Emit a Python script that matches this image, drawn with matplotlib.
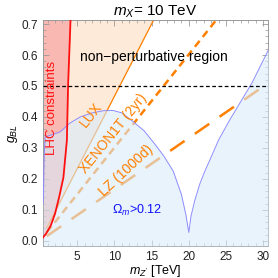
import numpy as np
import matplotlib
matplotlib.use("Agg")
import matplotlib.pyplot as plt
from matplotlib.ticker import MultipleLocator

plt.rcParams['font.family'] = ['Liberation Sans', 'DejaVu Sans']
plt.rcParams['mathtext.fontset'] = 'custom'
plt.rcParams['mathtext.rm'] = 'Liberation Sans'
plt.rcParams['mathtext.it'] = 'Liberation Sans:italic'

# Relic density boundary (Omega h^2 = 0.12)
omega_left_x = [0.40, 0.45, 0.50, 0.55, 0.60, 0.67, 1.5, 2.7, 4.0, 5.4, 7.0, 8.5, 9.8,
                11.0, 12.5, 14.0, 15.5, 16.6, 17.9, 19.0, 19.6, 20.0]
omega_left_y = [0.12, 0.15, 0.22, 0.27, 0.30, 0.335, 0.342, 0.352, 0.38, 0.40, 0.413,
                0.42, 0.421, 0.413, 0.385, 0.355, 0.31, 0.275, 0.225, 0.15, 0.085, 0.027]
omega_right_x = [20.0, 20.3, 20.8, 21.5, 22.2, 23.0, 24.0, 25.5, 27.0, 28.5, 30.7]
omega_right_y = [0.027, 0.08, 0.13, 0.185, 0.227, 0.27, 0.325, 0.39, 0.45, 0.51, 0.616]

# LHC constraint boundary
lhc_x = [0.40, 0.8, 1.43, 2.0, 2.55, 3.13, 3.6, 3.76, 4.1]
lhc_y = [0.011, 0.023, 0.049, 0.087, 0.14, 0.204, 0.324, 0.5, 0.72]

# Direct detection limits: g_BL / m_Z' slopes [1/TeV]
dd_names = ["LUX", "XENON1T (2yr)", "LZ (1000d)"]
dd_slopes = [0.0467, 0.0301, 0.0166]

ORANGE = "#FF8000"
XMIN, XMAX = 0.40, 30.65
YMIN, YMAX = -0.017, 0.713

fig = plt.figure(figsize=(2.78, 2.78), dpi=100)
ax = fig.add_axes([0.155, 0.115, 0.809, 0.813])

# LUX excluded (shading left of the LUX line)
xx = np.linspace(XMIN, XMAX, 200)
ax.fill_between(xx, dd_slopes[0] * xx, YMAX, where=dd_slopes[0] * xx < YMAX,
                color="#FDEAD8", lw=0, zorder=1)

# LHC constraints
ax.fill_betweenx(lhc_y, XMIN, lhc_x, color="#F9B8B2", lw=0, zorder=1.5)

# direct detection lines
dline = np.array([0.9, XMAX])
ax.plot(dline, dd_slopes[0] * dline, color=ORANGE, lw=0.9, zorder=2)
ax.plot(dline, dd_slopes[1] * dline, color=ORANGE, lw=1.8, dashes=(3, 2), zorder=2)
ax.plot(dline, dd_slopes[2] * dline, color=ORANGE, lw=1.8, dashes=(7, 5), zorder=2)

# relic density region
ox = omega_left_x + omega_right_x[1:]
oy = omega_left_y + omega_right_y[1:]
ax.fill_between(ox, YMIN, oy, color="#D9EBFA", alpha=0.6, lw=0, zorder=3)
ax.plot(ox, oy, color="#8C8CFF", lw=0.7, zorder=4)
ax.plot(lhc_x, lhc_y, color="#FF1010", lw=1.3, zorder=4)

ax.axhline(0.5, color="black", lw=0.9, dashes=(3, 2), zorder=5)

# labels
ax.text(15.3, 0.593, "non\u2212perturbative region", fontsize=10, ha="center",
        va="center", zorder=6)
ax.text(1.6, 0.43, "LHC constraints", color="#FF1010", fontsize=9.5, rotation=90,
        ha="center", va="center", zorder=6)
ax.text(6.92, 0.407, dd_names[0], color=ORANGE, fontsize=10, rotation=52,
        ha="center", va="center", zorder=6)
ax.text(9.88, 0.345, dd_names[1], color=ORANGE, fontsize=10, rotation=51,
        ha="center", va="center", zorder=6)
ax.text(11.6, 0.227, dd_names[2], color=ORANGE, fontsize=10, rotation=43,
        ha="center", va="center", zorder=6)
ax.text(13.0, 0.097, r"$\Omega_m$>0.12", color="#1010FF", fontsize=9,
        ha="center", va="center", zorder=6)

ax.set_xlim(XMIN, XMAX)
ax.set_ylim(YMIN, YMAX)
ax.xaxis.set_major_locator(MultipleLocator(5))
ax.xaxis.set_minor_locator(MultipleLocator(1))
ax.yaxis.set_major_locator(MultipleLocator(0.1))
ax.yaxis.set_minor_locator(MultipleLocator(0.02))
ax.yaxis.set_major_formatter(matplotlib.ticker.FormatStrFormatter("%.1f"))
ax.tick_params(which="both", direction="in", top=True, right=True,
               colors="#999999", labelcolor="#222222", labelsize=8.5)
ax.tick_params(which="major", length=4, width=0.6)
ax.tick_params(which="minor", length=2, width=0.5)
for s in ax.spines.values():
    s.set_color("#999999")
    s.set_linewidth(0.7)

ax.set_title(r"$m_X$= 10 TeV", fontsize=11, pad=3)
ax.set_xlabel(r"$m_{Z'}$ [TeV]", fontsize=9, labelpad=0)
ax.set_ylabel(r"$g_{BL}$", fontsize=9, labelpad=1)

fig.savefig("out.png", dpi=100)
